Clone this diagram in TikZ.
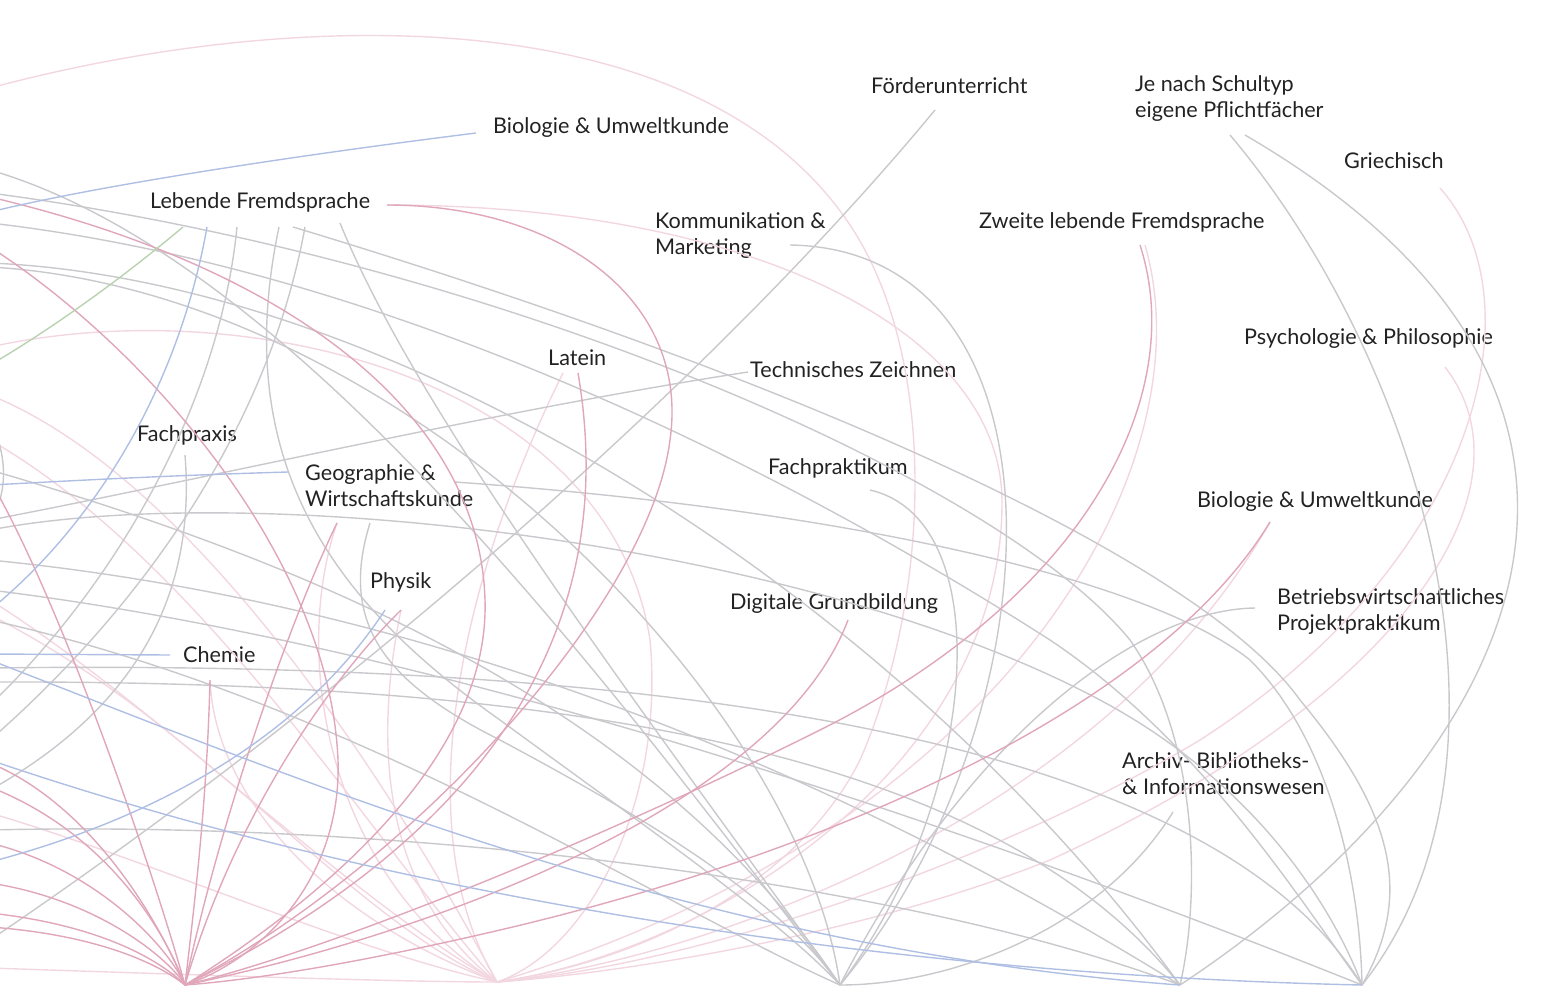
\documentclass[tikz,border=0pt]{standalone}
\usepackage{fontspec}
\setmainfont{Lato}
\definecolor{cg}{HTML}{C9C8CD}
\definecolor{cdp}{HTML}{E0A6B9}
\definecolor{clp}{HTML}{F3D7E0}
\definecolor{cbl}{HTML}{AFBFE4}
\definecolor{cgn}{HTML}{B9D3B0}
\definecolor{ctx}{HTML}{222222}
\tikzset{
  gr/.style={draw=cg,line width=1.4pt},
  dp/.style={draw=cdp,line width=1.4pt},
  lp/.style={draw=clp,line width=1.4pt},
  bl/.style={draw=cbl,line width=1.4pt},
  gn/.style={draw=cgn,line width=1.4pt},
  lab/.style={anchor=base west,inner sep=0pt,text=ctx,font=\fontsize{21.6}{25.5}\selectfont,align=left},
}
\begin{document}
\begin{tikzpicture}[x=1pt,y=-1pt]
\useasboundingbox (0,0) rectangle (1555,988);
\clip (0,0) rectangle (1555,988);
% hubs
\coordinate (A) at (185,985);
\coordinate (B) at (497,982);
\coordinate (C) at (840,985);
\coordinate (D) at (1180,985);
\coordinate (E) at (1362,985);
% labels
\node[lab] (bio1) at (493,133) {Biologie \& Umweltkunde};
\node[lab] (leb) at (150,208) {Lebende Fremdsprache};
\node[lab] (foe) at (871,93) {Förderunterricht};
\node[lab] (je) at (1135,117) {Je nach Schultyp\\eigene Pflichtfächer};
\node[lab] (gri) at (1344,168) {Griechisch};
\node[lab] (kom) at (655,254) {Kommunikation \&\\Marketing};
\node[lab] (zwe) at (979,228) {Zweite lebende Fremdsprache};
\node[lab] (psy) at (1244,344) {Psychologie \& Philosophie};
\node[lab] (lat) at (548,365) {Latein};
\node[lab] (tec) at (750,377) {Technisches Zeichnen};
\node[lab] (fpx) at (137,441) {Fachpraxis};
\node[lab] (geo) at (305,506) {Geographie \&\\Wirtschaftskunde};
\node[lab] (fpk) at (768,474) {Fachpraktikum};
\node[lab] (bio2) at (1197,507) {Biologie \& Umweltkunde};
\node[lab] (phy) at (370,588) {Physik};
\node[lab] (dig) at (730,609) {Digitale Grundbildung};
\node[lab] (bet) at (1277,630) {Betriebswirtschaftliches\\Projektpraktikum};
\node[lab] (che) at (183,662) {Chemie};
\node[lab] (arc) at (1122,794) {Archiv- Bibliotheks-\\\& Informationswesen};
% label anchors
\coordinate (bio1e) at (476,133);
\coordinate (lebR) at (387,205);
\coordinate (lebG) at (183,227);
\coordinate (lebB) at (207,227);
\coordinate (leb1) at (237,227);
\coordinate (leb2) at (279,227);
\coordinate (leb3) at (293,227);
\coordinate (leb4) at (305,227);
\coordinate (leb5) at (340,223);
\coordinate (foee) at (935,110);
\coordinate (je1) at (1230,135);
\coordinate (je2) at (1245,135);
\coordinate (grie) at (1440,188);
\coordinate (kome) at (790,245);
\coordinate (zwe1) at (1140,245);
\coordinate (zwe2) at (1145,245);
\coordinate (psye) at (1445,367);
\coordinate (lat1) at (563,373);
\coordinate (lat2) at (578,373);
\coordinate (tece) at (748,372);
\coordinate (fpxe) at (185,455);
\coordinate (geoB) at (288,472);
\coordinate (geoR) at (455,482);
\coordinate (geo1) at (337,523);
\coordinate (geo2) at (370,523);
\coordinate (fpke) at (870,490);
\coordinate (bio2e) at (1270,522);
\coordinate (phy1) at (385,610);
\coordinate (phy2) at (401,610);
\coordinate (dige) at (848,620);
\coordinate (bete) at (1255,608);
\coordinate (cheL) at (170,655);
\coordinate (cheD) at (210,680);
\coordinate (arce) at (1173,812);
% ---------- light pink -> B
\draw[lp] (-10,88) .. controls (300,5) and (700,0) .. (850,225) .. controls (940,360) and (930,600) .. (860,760) .. controls (800,880) and (650,960) .. (B);
\draw[lp] (lebR) .. controls (750,205) and (1000,330) .. (1002,500) .. controls (1004,760) and (720,950) .. (B);
\draw[lp] (lat1) .. controls (470,560) and (400,820) .. (B);
\draw[lp] (zwe2) .. controls (1210,470) and (1000,830) .. (B);
\draw[lp] (bio2e) .. controls (1100,820) and (700,960) .. (B);
\draw[lp] (psye) .. controls (1540,490) and (1400,700) .. (1050,860) .. controls (850,940) and (600,975) .. (B);
\draw[lp] (grie) .. controls (1540,300) and (1480,560) .. (1200,740) .. controls (1000,860) and (700,965) .. (B);
\draw[lp] (phy2) .. controls (370,760) and (390,900) .. (B);
\draw[lp] (geo1) .. controls (290,660) and (330,880) .. (B);
\draw[lp] (-10,347) .. controls (250,290) and (610,380) .. (650,640) .. controls (665,800) and (590,950) .. (B);
\draw[lp] (cheD) .. controls (215,800) and (330,920) .. (B);
\draw[lp] (-10,395) .. controls (200,480) and (400,800) .. (B);
\draw[lp] (-10,440) .. controls (200,560) and (380,850) .. (B);
\draw[lp] (-10,600) .. controls (150,700) and (350,900) .. (B);
\draw[lp] (-10,615) .. controls (200,720) and (350,920) .. (B);
\draw[lp] (-10,813) .. controls (150,860) and (350,950) .. (B);
\draw[lp] (-10,968) .. controls (200,975) and (400,982) .. (B);
% ---------- gray
\draw[gr] (foee) .. controls (720,370) and (360,690) .. (-10,940);
\draw[gr] (je1) .. controls (1420,360) and (1540,760) .. (E);
\draw[gr] (je2) .. controls (1700,400) and (1520,760) .. (D);
\draw[gr] (kome) .. controls (1080,250) and (1060,720) .. (C);
\draw[gr] (fpke) .. controls (1000,520) and (980,800) .. (C);
\draw[gr] (arce) .. controls (1100,930) and (950,985) .. (C);
\draw[gr] (bete) .. controls (1130,610) and (960,750) .. (C);
\draw[gr] (tece) .. controls (500,410) and (200,480) .. (-10,520);
\draw[gr] (leb1) .. controls (220,400) and (120,580) .. (-10,705);
\draw[gr] (leb2) .. controls (230,460) and (330,600) .. (500,720) .. controls (650,830) and (780,920) .. (C);
\draw[gr] (leb4) .. controls (270,420) and (150,600) .. (-10,740);
\draw[gr] (leb5) .. controls (420,420) and (650,720) .. (C);
\draw[gr] (leb3) .. controls (800,380) and (1200,560) .. (1300,700) .. controls (1400,820) and (1410,900) .. (E);
\draw[gr] (-10,193) .. controls (500,260) and (1000,480) .. (1130,640) .. controls (1200,740) and (1200,900) .. (D);
\draw[gr] (-10,223) .. controls (400,270) and (800,480) .. (1050,640) .. controls (1200,740) and (1300,900) .. (E);
\draw[gr] (-10,170) .. controls (300,260) and (620,700) .. (C);
\draw[gr] (-10,263) .. controls (400,280) and (900,600) .. (D);
\draw[gr] (-10,267) .. controls (400,290) and (800,700) .. (C);
\draw[gr] (-10,470) .. controls (300,560) and (650,700) .. (C);
\draw[gr] (geoR) .. controls (850,510) and (1150,580) .. (1250,660) .. controls (1330,740) and (1360,880) .. (E);
\draw[gr] (-10,560) .. controls (400,600) and (800,750) .. (D);
\draw[gr] (-10,590) .. controls (400,640) and (900,800) .. (E);
\draw[gr] (-10,620) .. controls (350,700) and (650,900) .. (C);
\draw[gr] (-10,668) .. controls (600,660) and (1200,720) .. (E);
\draw[gr] (-10,682) .. controls (600,680) and (1000,760) .. (D);
\draw[gr] (-10,830) .. controls (400,820) and (900,880) .. (D);
\draw[gr] (geo2) .. controls (340,620) and (380,680) .. (500,740) .. controls (650,820) and (780,900) .. (C);
\draw[gr] (fpxe) .. controls (195,580) and (150,700) .. (-10,790);
\draw[gr] (-10,420) .. controls (8,455) and (8,495) .. (-10,520);
\draw[gr] (-10,530) .. controls (250,480) and (800,540) .. (1100,700) .. controls (1250,780) and (1330,900) .. (E);
% ---------- dark pink -> A
\draw[dp] (lebR) .. controls (560,205) and (690,300) .. (670,440) .. controls (650,600) and (420,860) .. (A);
\draw[dp] (lat2) .. controls (610,560) and (560,800) .. (A);
\draw[dp] (dige) .. controls (780,800) and (450,930) .. (A);
\draw[dp] (zwe1) .. controls (1190,400) and (1080,600) .. (820,730) .. controls (600,840) and (330,950) .. (A);
\draw[dp] (bio2e) .. controls (1150,720) and (800,860) .. (500,930) .. controls (350,965) and (250,980) .. (A);
\draw[dp] (phy2) .. controls (320,690) and (230,830) .. (A);
\draw[dp] (geo1) .. controls (290,620) and (220,820) .. (A);
\draw[dp] (cheD) .. controls (207,800) and (195,900) .. (A);
\draw[dp] (-10,197) .. controls (300,270) and (480,420) .. (485,600) .. controls (490,760) and (320,900) .. (A);
\draw[dp] (-10,247) .. controls (150,350) and (330,560) .. (338,760) .. controls (342,880) and (260,960) .. (A);
\draw[dp] (-10,480) .. controls (60,600) and (150,860) .. (A);
\draw[dp] (-10,763) .. controls (80,800) and (150,900) .. (A);
\draw[dp] (-10,787) .. controls (100,830) and (160,920) .. (A);
\draw[dp] (-10,843) .. controls (100,870) and (170,950) .. (A);
\draw[dp] (-10,883) .. controls (100,900) and (170,960) .. (A);
\draw[dp] (-10,913) .. controls (100,925) and (160,960) .. (A);
\draw[dp] (-10,927) .. controls (100,935) and (160,965) .. (A);
% ---------- blue
\draw[bl] (bio1e) .. controls (300,155) and (100,185) .. (-10,212);
\draw[bl] (lebB) .. controls (180,380) and (100,520) .. (-10,610);
\draw[bl] (geoB) .. controls (150,476) and (50,482) .. (-10,485);
\draw[bl] (cheL) -- (-10,654);
\draw[bl] (phy1) .. controls (300,740) and (150,820) .. (-10,862);
\draw[bl] (-10,660) .. controls (300,780) and (700,950) .. (D);
\draw[bl] (-10,760) .. controls (400,900) and (900,975) .. (E);
% ---------- green
\draw[gn] (lebG) .. controls (120,280) and (50,330) .. (-10,365);
\end{tikzpicture}
\end{document}
